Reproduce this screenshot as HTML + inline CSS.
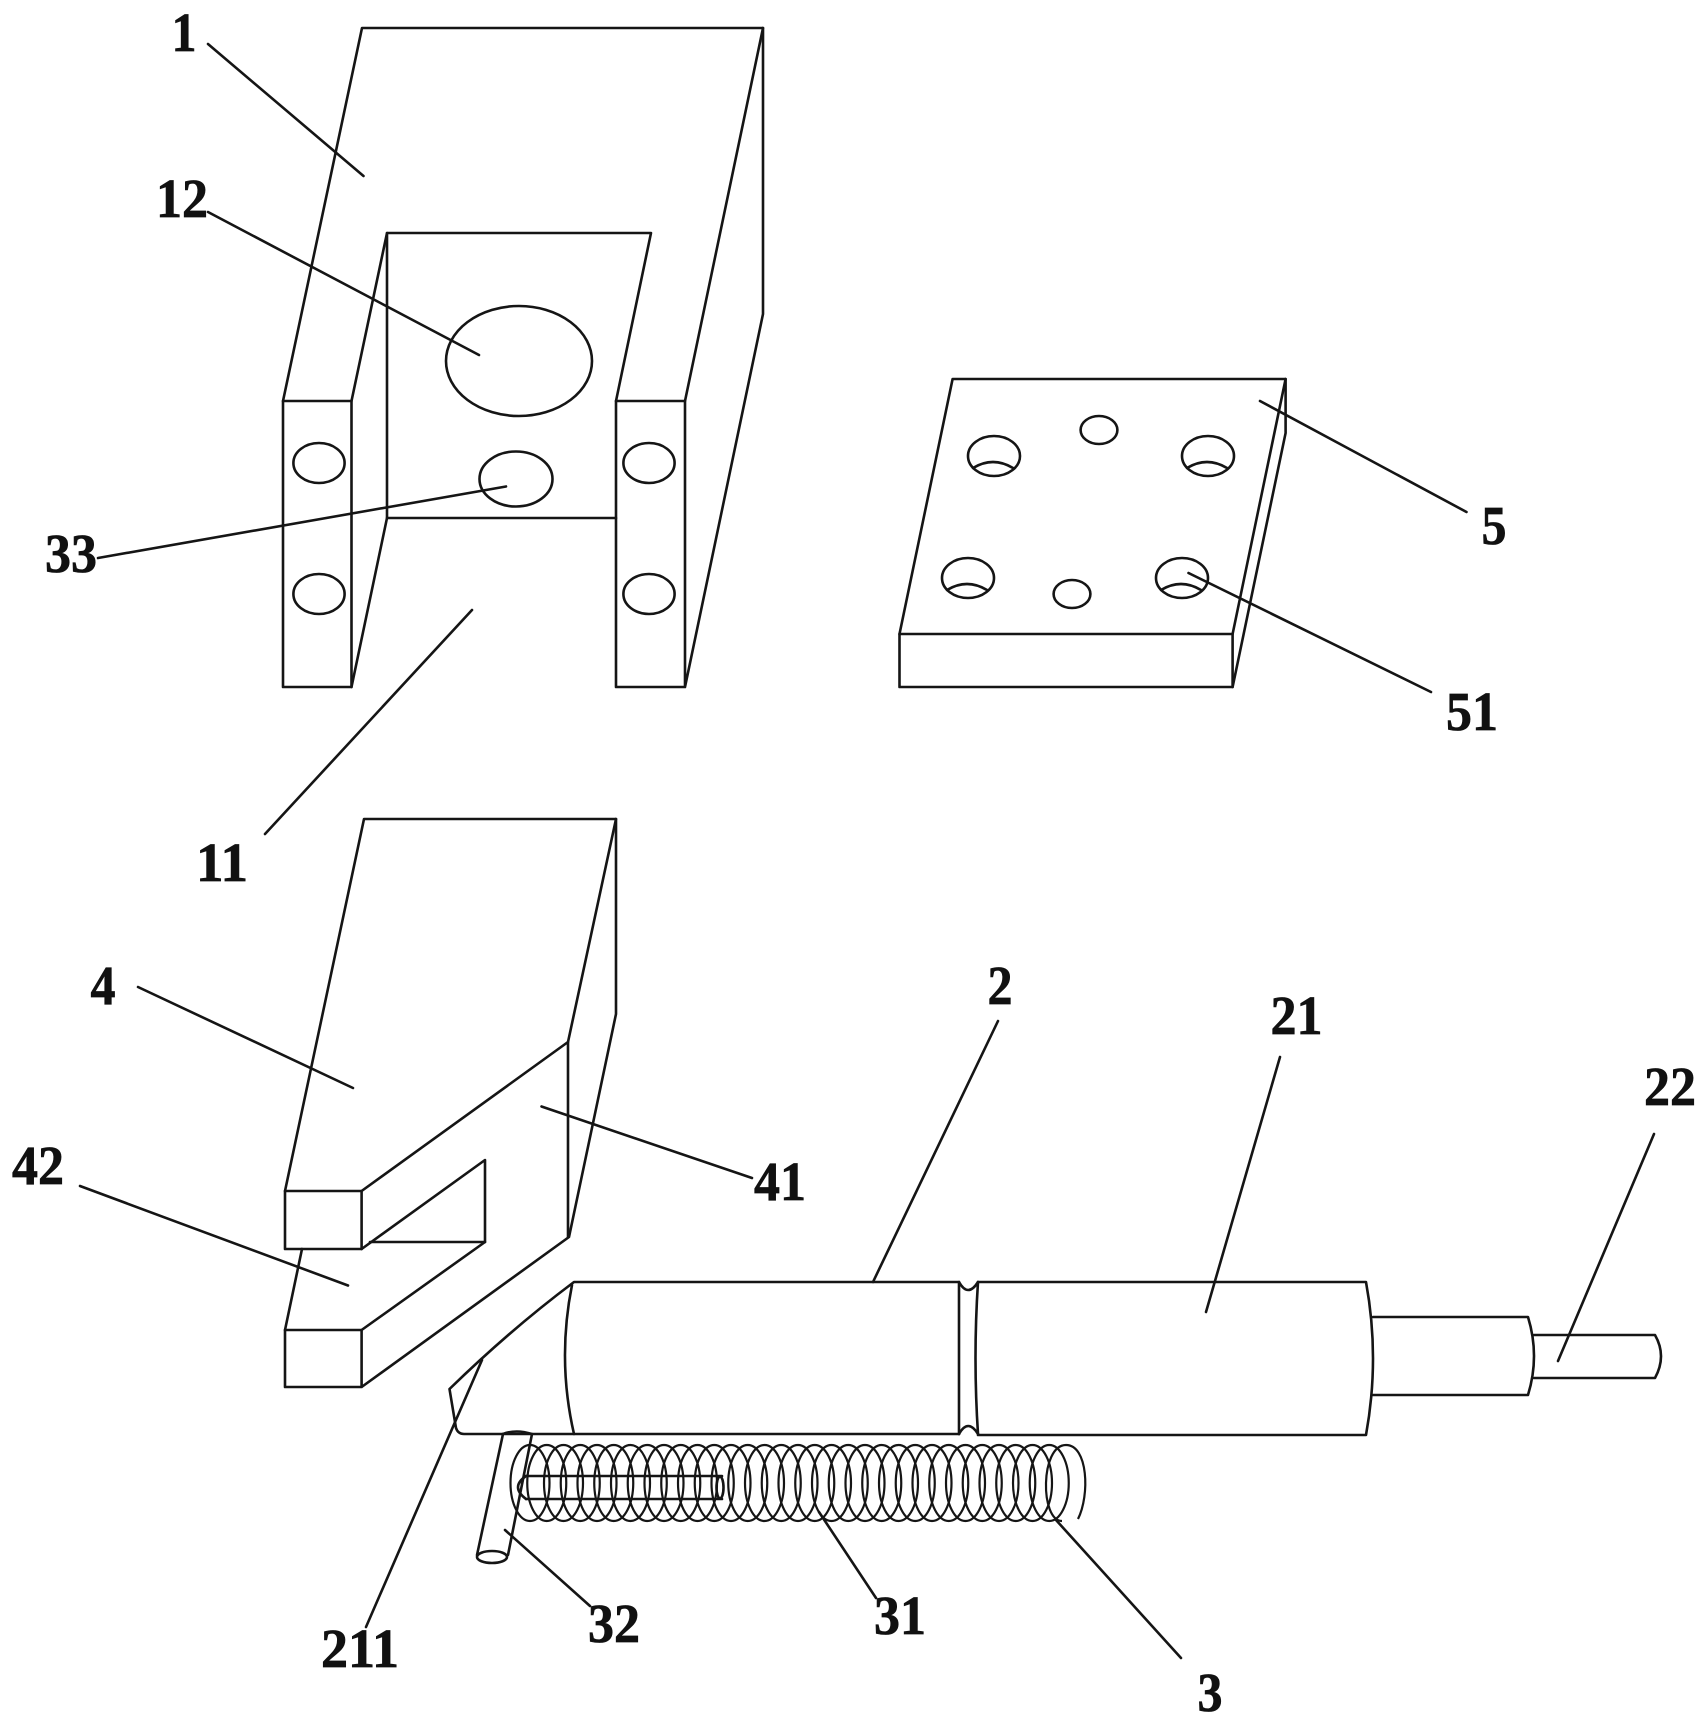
<!DOCTYPE html>
<html><head><meta charset="utf-8"><style>
html,body{margin:0;padding:0;background:#fff}
svg{display:block}
.l{fill:none;stroke:#151515;stroke-width:2.6;stroke-linejoin:round;stroke-linecap:round}
.s{fill:none;stroke:#151515;stroke-width:2.2}
text{font-family:"Liberation Serif",serif;font-weight:bold;font-size:55px;fill:#111;stroke:#111;stroke-width:.7;text-anchor:middle}
</style></head><body>
<svg width="1707" height="1726" viewBox="0 0 1707 1726" xmlns="http://www.w3.org/2000/svg">
<rect width="1707" height="1726" fill="#fff"/>
<g class="l">
<!-- block 1 -->
<path d="M283 401 L362 28 H763 V314 L685 687 V401 H616 V687 H685"/>
<path d="M763 28 L685 401"/>
<path d="M283 401 V687 H351.500 V401 Z"/>
<path d="M351.500 401 L387 233 H651 L616 401"/>
<path d="M387 233 V518 H616"/>
<path d="M387 518 L351.500 687"/>
<ellipse cx="519" cy="361" rx="73" ry="55"/>
<ellipse cx="516" cy="479" rx="36.500" ry="27.500"/>
<ellipse cx="319" cy="463" rx="25.600" ry="20"/>
<ellipse cx="319" cy="594" rx="25.600" ry="20"/>
<ellipse cx="649" cy="463" rx="25.600" ry="20"/>
<ellipse cx="649" cy="594" rx="25.600" ry="20"/>
<!-- plate 5 -->
<path d="M899.500 634 L952.600 379 H1285.600 V433 L1232.600 687 H899.500 Z"/>
<path d="M899.500 634 H1232.600 V687"/>
<path d="M1285.600 379 L1232.600 634"/>
<ellipse cx="994" cy="456" rx="26" ry="20"/>
<ellipse cx="1208" cy="456" rx="26" ry="20"/>
<ellipse cx="968" cy="578" rx="26" ry="20"/>
<ellipse cx="1182" cy="578" rx="26" ry="20"/>
<path d="M973 468 Q993 456 1013 468"/>
<path d="M1187 468 Q1207 456 1227 468"/>
<path d="M947 590 Q967 578 987 590"/>
<path d="M1161 590 Q1181 578 1201 590"/>
<ellipse cx="1099" cy="430" rx="18.400" ry="14"/>
<ellipse cx="1072" cy="594" rx="18.400" ry="14"/>
<!-- block 4 -->
<path d="M285 1191 L364 819 H616 V1014 L569 1237 L361.600 1387 H285 V1330 H361.600 V1387"/>
<path d="M285 1191 H361.600 V1249 H285 Z"/>
<path d="M616 819 L568 1042 V1237"/>
<path d="M361.600 1191 L568 1042"/>
<path d="M302 1249 L285 1330"/>
<path d="M361.600 1330 L485 1242 V1160 L361.600 1249"/>
<path d="M370 1242 H485"/>
<!-- cylinder -->
<path d="M958 1282 H574 Q510 1330 449.500 1389 L456 1428 Q458 1434 464 1434 H959"/>
<path d="M572 1285 Q557 1360 574 1434"/>
<path d="M959 1282 V1434"/>
<path d="M978 1282 Q973 1358 978 1434"/>
<path d="M959 1282 Q968 1298 978 1282"/>
<path d="M959 1434 Q968 1418 978 1434"/>
<path d="M978 1282 H1366 Q1380 1358 1366 1435 H978"/>
<path d="M1373 1317 H1528 Q1540 1356 1528 1395 H1373"/>
<path d="M1534 1335 H1655 Q1667 1356 1655 1378 H1534"/>
<!-- rod 32 -->
<path d="M503 1434 Q516 1429 532 1434 L508 1555"/>
<path d="M503 1434 L477 1555"/>
<ellipse cx="492" cy="1557" rx="15" ry="6"/>
<!-- inner rod -->
<path d="M526 1476 H722 M526 1499 H722"/>
<path d="M526 1476 Q510 1487 526 1499"/>
<ellipse cx="720" cy="1487.500" rx="3.500" ry="11"/>
</g>
<g class="s">
<ellipse cx="530" cy="1483" rx="19.500" ry="38"/>
<ellipse cx="546.750" cy="1483" rx="19.500" ry="38"/>
<ellipse cx="563.500" cy="1483" rx="19.500" ry="38"/>
<ellipse cx="580.250" cy="1483" rx="19.500" ry="38"/>
<ellipse cx="597" cy="1483" rx="19.500" ry="38"/>
<ellipse cx="613.750" cy="1483" rx="19.500" ry="38"/>
<ellipse cx="630.500" cy="1483" rx="19.500" ry="38"/>
<ellipse cx="647.250" cy="1483" rx="19.500" ry="38"/>
<ellipse cx="664" cy="1483" rx="19.500" ry="38"/>
<ellipse cx="680.750" cy="1483" rx="19.500" ry="38"/>
<ellipse cx="697.500" cy="1483" rx="19.500" ry="38"/>
<ellipse cx="714.250" cy="1483" rx="19.500" ry="38"/>
<ellipse cx="731" cy="1483" rx="19.500" ry="38"/>
<ellipse cx="747.750" cy="1483" rx="19.500" ry="38"/>
<ellipse cx="764.500" cy="1483" rx="19.500" ry="38"/>
<ellipse cx="781.250" cy="1483" rx="19.500" ry="38"/>
<ellipse cx="798" cy="1483" rx="19.500" ry="38"/>
<ellipse cx="814.750" cy="1483" rx="19.500" ry="38"/>
<ellipse cx="831.500" cy="1483" rx="19.500" ry="38"/>
<ellipse cx="848.250" cy="1483" rx="19.500" ry="38"/>
<ellipse cx="865" cy="1483" rx="19.500" ry="38"/>
<ellipse cx="881.750" cy="1483" rx="19.500" ry="38"/>
<ellipse cx="898.500" cy="1483" rx="19.500" ry="38"/>
<ellipse cx="915.250" cy="1483" rx="19.500" ry="38"/>
<ellipse cx="932" cy="1483" rx="19.500" ry="38"/>
<ellipse cx="948.750" cy="1483" rx="19.500" ry="38"/>
<ellipse cx="965.500" cy="1483" rx="19.500" ry="38"/>
<ellipse cx="982.250" cy="1483" rx="19.500" ry="38"/>
<ellipse cx="999" cy="1483" rx="19.500" ry="38"/>
<ellipse cx="1015.750" cy="1483" rx="19.500" ry="38"/>
<ellipse cx="1032.500" cy="1483" rx="19.500" ry="38"/>
<ellipse cx="1049.250" cy="1483" rx="19.500" ry="38"/>
<path d="M1078 1519 C1090 1495 1088 1445 1066 1445 C1040 1445 1040 1521 1062 1521"/>
</g>
<!-- leaders -->
<g class="l">
<path d="M208 44 L363.500 176"/>
<path d="M208 212 L479 355"/>
<path d="M98 558 L506 486.500"/>
<path d="M265 834 L472 610"/>
<path d="M1260 401 L1466.500 512"/>
<path d="M1188.500 573 L1431 692"/>
<path d="M138 987 L353 1088"/>
<path d="M80 1186 L348 1285.500"/>
<path d="M541.500 1106.500 L752 1178"/>
<path d="M998 1021 L873 1282"/>
<path d="M1280 1057 L1206 1312"/>
<path d="M1654 1134 L1558 1361"/>
<path d="M505 1530 L590 1606"/>
<path d="M819 1512 L876 1598"/>
<path d="M1056 1520 L1181 1658"/>
<path d="M482 1360 L366 1627"/>
</g>
<text x="184" y="51" textLength="25" lengthAdjust="spacingAndGlyphs">1</text>
<text x="182" y="217" textLength="52" lengthAdjust="spacingAndGlyphs">12</text>
<text x="71" y="572" textLength="52" lengthAdjust="spacingAndGlyphs">33</text>
<text x="222" y="881" textLength="52" lengthAdjust="spacingAndGlyphs">11</text>
<text x="1494" y="544" textLength="25" lengthAdjust="spacingAndGlyphs">5</text>
<text x="1472" y="730" textLength="52" lengthAdjust="spacingAndGlyphs">51</text>
<text x="103" y="1004" textLength="25" lengthAdjust="spacingAndGlyphs">4</text>
<text x="38" y="1184" textLength="52" lengthAdjust="spacingAndGlyphs">42</text>
<text x="780" y="1200" textLength="52" lengthAdjust="spacingAndGlyphs">41</text>
<text x="1000" y="1004" textLength="25" lengthAdjust="spacingAndGlyphs">2</text>
<text x="1296.500" y="1034" textLength="52" lengthAdjust="spacingAndGlyphs">21</text>
<text x="1670" y="1105" textLength="52" lengthAdjust="spacingAndGlyphs">22</text>
<text x="614" y="1642" textLength="52" lengthAdjust="spacingAndGlyphs">32</text>
<text x="900" y="1634" textLength="52" lengthAdjust="spacingAndGlyphs">31</text>
<text x="1210" y="1711" textLength="25" lengthAdjust="spacingAndGlyphs">3</text>
<text x="360" y="1667" textLength="78" lengthAdjust="spacingAndGlyphs">211</text>
</svg>
</body></html>
